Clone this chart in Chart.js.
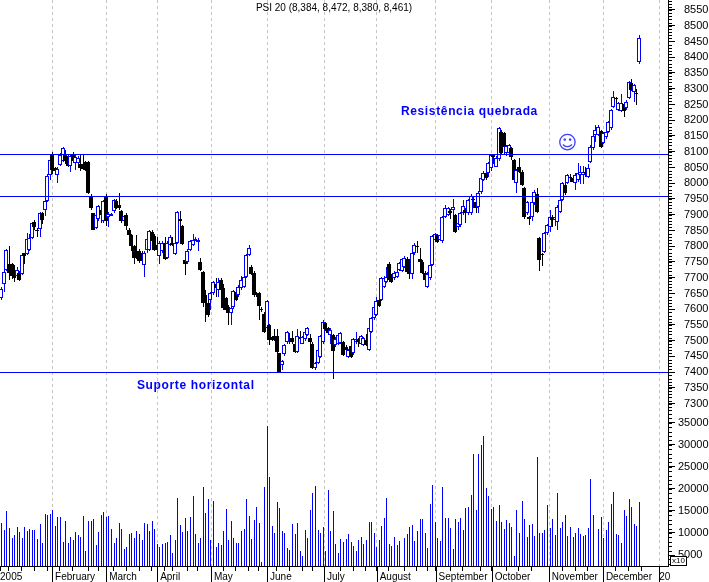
<!DOCTYPE html>
<html>
<head>
<meta charset="utf-8">
<title>PSI 20</title>
<script src="https://cdn.jsdelivr.net/npm/chart.js@4"></script>
<style>
    html, body { margin: 0; padding: 0; background: #ffffff; }
    canvas { display: block; }
</style>
</head>
<body>
<canvas id="psiChart" width="709" height="582"></canvas>
<script>
// Daily candles, ten per line
const opens = [
    7636,7681,7726,7742,7742,7726,7705,7715,7713,7777,
    7774,7787,7826,7878,7853,7856,7904,7914,7943,8027,
    8094,8048,8027,8059,8070,8091,8085,8056,8094,8064,
    8064,8062,8062,8067,8067,7959,7904,7858,7885,7914,
    7879,7959,7893,7897,7911,7943,7932,7913,7879,7900,
    7853,7837,7800,7784,7784,7779,7739,7787,7789,7845,
    7832,7805,7768,7784,7811,7763,7805,7811,7776,7811,
    7885,7863,7755,7750,7787,7805,7817,7813,7751,7719,
    7645,7619,7629,7650,7679,7661,7693,7666,7635,7608,
    7587,7608,7656,7645,7666,7672,7703,7772,7735,7716,
    7650,7650,7602,7586,7539,7549,7512,7515,7515,7460,
    7422,7457,7497,7507,7510,7491,7465,7512,7491,7507,
    7518,7510,7491,7412,7428,7449,7497,7555,7539,7518,
    7518,7486,7491,7493,7497,7481,7447,7483,7460,7497,
    7502,7491,7486,7502,7470,7528,7571,7581,7629,7629,
    7671,7687,7745,7708,7698,7703,7724,7722,7735,7761,
    7756,7713,7777,7801,7761,7750,7716,7671,7698,7740,
    7819,7835,7820,7815,7894,7899,7913,7915,7899,7862,
    7867,7904,7915,7905,7905,7949,7941,7923,7971,8010,
    8032,8032,8047,8090,8053,8076,8164,8158,8095,8095,
    8111,8074,8000,8053,8037,7984,7904,7892,7894,7936,
    7966,7825,7774,7783,7841,7862,7894,7883,7878,7910,
    7947,7994,8000,8021,8016,8000,8010,8026,8026,8037,
    8021,8068,8111,8153,8153,8166,8127,8148,8164,8174,
    8243,8270,8232,8230,8251,8238,8270,8319,8291,8285,8384
];
const highs = [
    7670,7725,7792,7800,7748,7740,7735,7720,7775,7780,
    7842,7840,7876,7882,7858,7908,7908,7964,8030,8094,
    8098,8052,8050,8096,8115,8106,8090,8090,8100,8090,
    8085,8091,8091,8070,8070,7965,7906,7905,7932,7920,
    7948,7965,7908,7905,7950,7950,7969,7916,7900,7905,
    7858,7840,7805,7837,7790,7785,7785,7828,7850,7850,
    7840,7830,7815,7815,7830,7815,7835,7830,7815,7912,
    7913,7868,7760,7790,7820,7838,7828,7826,7764,7722,
    7661,7650,7655,7690,7698,7698,7698,7679,7640,7612,
    7610,7662,7660,7677,7706,7708,7775,7805,7740,7720,
    7655,7654,7606,7590,7630,7552,7516,7536,7536,7462,
    7440,7490,7532,7525,7530,7495,7536,7530,7515,7532,
    7544,7520,7495,7434,7474,7518,7565,7560,7545,7540,
    7522,7512,7522,7527,7500,7485,7475,7487,7508,7528,
    7510,7519,7513,7520,7543,7575,7612,7640,7632,7702,
    7704,7735,7750,7712,7720,7725,7751,7762,7768,7765,
    7760,7783,7809,7815,7795,7755,7720,7717,7744,7836,
    7842,7840,7840,7896,7931,7925,7918,7949,7903,7878,
    7908,7947,7920,7951,7965,7955,7945,7974,8020,8038,
    8036,8067,8094,8094,8085,8178,8168,8162,8122,8125,
    8115,8078,8046,8079,8041,7988,7945,7896,7945,7977,
    7984,7830,7780,7845,7871,7915,7898,7898,7930,7951,
    8004,8010,8030,8030,8020,8032,8065,8055,8055,8050,
    8062,8120,8154,8185,8185,8170,8162,8168,8199,8236,
    8294,8275,8258,8283,8255,8263,8324,8330,8316,8298,8472
];
const lows = [
    7630,7655,7720,7694,7695,7685,7695,7690,7710,7742,
    7772,7785,7824,7850,7829,7830,7870,7895,7940,8011,
    8030,8025,8001,8055,8066,8060,8050,8035,8065,8043,
    8060,8040,8044,8040,7965,7915,7850,7855,7880,7875,
    7875,7863,7862,7895,7905,7918,7915,7875,7870,7853,
    7830,7784,7742,7760,7748,7745,7702,7778,7785,7800,
    7785,7770,7742,7780,7755,7760,7800,7800,7772,7808,
    7811,7805,7710,7745,7785,7800,7815,7784,7720,7608,
    7558,7575,7597,7645,7640,7640,7655,7598,7590,7550,
    7550,7600,7625,7640,7660,7668,7700,7770,7708,7640,
    7640,7565,7590,7526,7535,7486,7498,7498,7460,7397,
    7407,7450,7490,7490,7490,7460,7460,7495,7488,7500,
    7514,7486,7410,7408,7425,7445,7490,7530,7518,7491,
    7380,7480,7485,7488,7450,7465,7444,7445,7455,7490,
    7480,7487,7482,7482,7466,7524,7567,7578,7606,7625,
    7668,7683,7688,7683,7694,7700,7720,7718,7731,7715,
    7695,7695,7773,7780,7746,7712,7688,7667,7694,7736,
    7815,7810,7816,7811,7890,7895,7888,7883,7842,7851,
    7862,7900,7875,7900,7900,7920,7905,7905,7967,8006,
    8010,8020,8040,8060,8050,8072,8090,8090,8085,8090,
    8075,8006,7968,8033,7990,7888,7900,7867,7880,7930,
    7906,7720,7738,7779,7837,7846,7860,7865,7852,7905,
    7943,7964,7996,8005,8000,7979,8005,7999,7999,8020,
    8017,8064,8107,8130,8149,8112,8123,8140,8160,8170,
    8239,8240,8228,8226,8211,8234,8266,8292,8259,8248,8380
];
const closes = [
    7665,7719,7789,7715,7705,7700,7726,7692,7771,7768,
    7823,7826,7874,7860,7848,7904,7882,7943,8022,8075,
    8041,8038,8045,8091,8112,8072,8054,8085,8070,8083,
    8080,8048,8046,8043,7969,7922,7853,7900,7927,7900,
    7943,7879,7903,7903,7946,7922,7922,7879,7897,7863,
    7837,7800,7763,7763,7752,7752,7779,7823,7847,7816,
    7789,7789,7811,7811,7758,7811,7830,7805,7811,7908,
    7879,7808,7742,7784,7816,7821,7823,7821,7725,7619,
    7619,7582,7650,7685,7668,7687,7661,7603,7597,7587,
    7603,7659,7629,7672,7693,7703,7772,7793,7713,7645,
    7645,7610,7597,7528,7627,7502,7502,7502,7465,7400,
    7435,7486,7528,7504,7497,7465,7515,7507,7512,7528,
    7541,7497,7412,7430,7470,7515,7560,7536,7523,7534,
    7468,7507,7518,7523,7454,7470,7470,7449,7504,7504,
    7497,7515,7509,7486,7539,7571,7608,7627,7610,7698,
    7698,7701,7692,7687,7716,7719,7747,7758,7764,7719,
    7713,7779,7803,7798,7750,7716,7692,7713,7740,7832,
    7838,7814,7835,7892,7920,7920,7905,7926,7846,7873,
    7904,7928,7905,7947,7958,7947,7920,7970,8016,8034,
    8016,8063,8090,8082,8081,8174,8095,8116,8118,8121,
    8084,8010,8042,8037,7995,7894,7941,7885,7941,7973,
    7910,7756,7772,7841,7867,7894,7883,7894,7926,7947,
    8000,7968,8026,8016,8005,8026,8032,8037,8037,8032,
    8047,8116,8150,8169,8180,8116,8158,8164,8195,8232,
    8275,8267,8254,8254,8230,8259,8320,8296,8312,8284,8461
];
const volumes = [
    12160,10650,14960,11110,8840,9520,11330,10200,8840,11330,
    10420,10880,10650,10650,8610,12010,7700,14280,14050,14280,
    15190,11560,13600,13600,7930,12690,7700,9060,8380,10200,
    9520,9060,13830,5890,12690,12690,13150,7250,10200,14050,
    14730,13600,13830,10880,7700,8840,12240,10880,6340,6800,
    9740,9970,8840,10420,9740,8380,12240,12010,10420,12690,
    10880,7480,6800,7480,7700,7930,9520,5440,8380,17910,
    11790,10200,13370,10420,13600,18360,9740,7700,8840,20400,
    14510,17680,8380,17230,6800,7700,7250,10420,15410,8380,
    12690,8840,7700,7700,10420,10880,17680,13830,8610,12920,
    15870,12240,3400,20400,34240,22670,11560,9970,17000,15640,
    10420,9970,6570,6120,12010,9740,12240,5890,4760,10650,
    8840,15190,19040,20630,10650,9970,11330,5890,19720,10420,
    14960,7480,5440,8610,7930,8610,9740,7930,7020,5890,
    8380,9060,7480,8380,12470,12470,9970,6800,8380,11560,
    13370,17910,7480,7020,9060,7250,8160,null,8840,9740,
    11330,11790,8160,10420,13150,13150,9970,6570,16550,20860,
    12470,8840,8160,20400,13370,13370,11110,6340,13150,12470,
    13370,10650,15640,15870,18590,27890,15190,27890,29930,31970,
    20180,18360,15410,15870,12690,16320,12470,10880,12920,12240,
    11330,4760,15190,9970,17230,13150,9060,11790,12010,9290,
    27200,9970,9970,10650,16320,11110,13150,9520,19040,11110,
    12470,14050,9290,11330,9060,9970,11110,9740,9290,9520,
    11110,22220,14050,null,10880,13600,8840,10650,12470,16550,
    19270,9740,9520,7700,15190,13830,17680,15870,12010,11560,17000
];

// Horizontal levels drawn on the chart
const resistanceHigh = 8092;
const resistanceLow = 7958;
const supportLevel = 7400;

// X axis: bar indexes of month starts and weeks
const monthTicks = [-0.5, 20, 41.2, 61.2, 82.3, 104.3, 126.6, 147.3, 170.4, 192.4, 214.8, 236, 258];
const monthLabels = ['2005', ' February', ' March', ' April', ' May', ' June', ' July', ' August', ' September', ' October', ' November', ' December', '20'];
const weekTicks = [3,8,13,18,23,28,34,38,44,49,54,59,64,67,73,77,87,92,97,101,108,113,118,122,133,138,143,152,158,163,167,176,181,188,198,203,208,220,225,230,241,246,251];

// Y axis tick labels
const priceTicks = [7300,7350,7400,7450,7500,7550,7600,7650,7700,7750,7800,7850,7900,7950,8000,8050,8100,8150,8200,8250,8300,8350,8400,8450,8500,8550];
const volumeTicks = [5000,10000,15000,20000,25000,30000,35000];

const titleText = 'PSI 20 (8,384, 8,472, 8,380, 8,461)';
const upColor = '#0000ff';
const downColor = '#000000';

Chart.defaults.font.family = '"Liberation Sans", Arial, sans-serif';
Chart.defaults.color = '#000000';

// Snap the bars and level lines to whole pixels, the original has no antialiasing
const crispMarks = {
    id: 'crispMarks',
    afterDatasetsUpdate(chart) {
        chart.data.datasets.forEach(function(ds, idx) {
            chart.getDatasetMeta(idx).data.forEach(function(el) {
                if (ds.type === 'line') {
                    el.y = Math.round(el.y) + 0.5;
                } else {
                    // even widths sit on a pixel edge, odd widths on a pixel centre
                    el.x = Math.round(el.x) + (ds.barThickness % 2 ? 0.5 : 0);
                    el.y = Math.round(el.y);
                    el.base = Math.round(el.base);
                }
            });
        });
    }
};

// Short axis ticks, long month separators, title, notes and the x10 box
const chartNotes = {
    id: 'chartNotes',
    afterDraw(chart) {
        const ctx = chart.ctx;
        const xs = chart.scales.x;
        const yp = chart.scales.yPrice;
        const yv = chart.scales.yVol;
        const right = chart.chartArea.right;
        const bottom = chart.chartArea.bottom;
        ctx.save();
        ctx.strokeStyle = '#000000';
        ctx.lineWidth = 1;
        ctx.beginPath();
        for (let v = 7280; v <= 8580; v += 10) {
            const y = Math.round(yp.getPixelForValue(v)) + 0.5;
            ctx.moveTo(right, y);
            ctx.lineTo(right + 4, y);
        }
        for (let v = 3000; v <= 37000; v += 1000) {
            const y = Math.round(yv.getPixelForValue(v)) + 0.5;
            ctx.moveTo(right, y);
            ctx.lineTo(right + 4, y);
        }
        monthTicks.slice(1).forEach(function(v) {
            const x = Math.round(xs.getPixelForValue(v)) + 0.5;
            ctx.moveTo(x, bottom);
            ctx.lineTo(x, 582);
        });
        ctx.stroke();

        ctx.fillStyle = '#000000';
        ctx.textBaseline = 'middle';
        ctx.textAlign = 'center';
        ctx.font = '10px "Liberation Sans"';
        ctx.fillText(titleText, 334, 8);

        ctx.fillStyle = '#ffffff';
        ctx.fillRect(670, 556, 16, 10);
        ctx.strokeRect(670.5, 556.5, 16, 9);
        ctx.fillStyle = '#000000';
        ctx.font = '8px "Liberation Sans"';
        ctx.fillText('x10', 678.5, 561);

        ctx.fillStyle = upColor;
        ctx.textAlign = 'left';
        ctx.font = 'bold 12px "Liberation Sans"';
        ctx.letterSpacing = '0.65px';
        ctx.fillText('Resistência quebrada', xs.getPixelForValue(156.7), yp.getPixelForValue(8226));
        ctx.fillText('Suporte horizontal', xs.getPixelForValue(53.2), yp.getPixelForValue(7356));
        ctx.letterSpacing = '0px';
        ctx.textAlign = 'center';
        ctx.fillStyle = '#3a3aff';
        ctx.font = '19px "DejaVu Sans"';
        ctx.fillText('\u263A', xs.getPixelForValue(222), yp.getPixelForValue(8124));
        ctx.restore();
    }
};

const wickData = highs.map(function(h, i) { return { x: i, y: [lows[i], h] }; });
const bodyData = opens.map(function(o, i) { return { x: i, y: [o, closes[i]] }; });
const volumeData = volumes.map(function(v, i) { return { x: i, y: v }; });
const candleColors = opens.map(function(o, i) { return closes[i] >= o ? upColor : downColor; });
const bodyFills = opens.map(function(o, i) { return closes[i] >= o ? '#ffffff' : downColor; });

function levelLine(value) {
    return {
        type: 'line',
        data: [{ x: -1, y: value }, { x: 262, y: value }],
        yAxisID: 'yPrice',
        borderColor: upColor,
        borderWidth: 1,
        pointRadius: 0,
        order: 0
    };
}

// no auto padding from the first and last labels, the plot runs to the canvas edge
function fixBox(width, height) {
    return function(scale) {
        if (width) scale.width = width;
        if (height) scale.height = height;
        scale.paddingLeft = 0;
        scale.paddingRight = 0;
        scale.paddingTop = 0;
        scale.paddingBottom = 0;
    };
}

new Chart(document.getElementById('psiChart'), {
    type: 'bar',
    data: {
        datasets: [
            levelLine(resistanceHigh),
            levelLine(resistanceLow),
            levelLine(supportLevel),
            {
                data: bodyData,
                yAxisID: 'yPrice',
                grouped: false,
                barThickness: 4,
                backgroundColor: bodyFills,
                borderColor: candleColors,
                borderWidth: 1,
                borderSkipped: false,
                inflateAmount: 0,
                order: 1
            },
            {
                data: wickData,
                yAxisID: 'yPrice',
                grouped: false,
                barThickness: 1,
                backgroundColor: candleColors,
                borderWidth: 0,
                inflateAmount: 0,
                order: 2
            },
            {
                data: volumeData,
                yAxisID: 'yVol',
                grouped: false,
                barThickness: 1,
                backgroundColor: upColor,
                borderWidth: 0,
                inflateAmount: 0,
                order: 3
            }
        ]
    },
    options: {
        responsive: false,
        animation: false,
        layout: { padding: 0, autoPadding: false },
        plugins: {
            legend: { display: false },
            tooltip: { enabled: false }
        },
        scales: {
            x: {
                type: 'linear',
                position: 'bottom',
                offset: false,
                min: -0.51,
                max: 261.45,
                afterFit: fixBox(0, 16),
                afterBuildTicks: function(scale) {
                    scale.ticks = monthTicks.concat(weekTicks).sort(function(a, b) { return a - b; }).map(function(v) { return { value: v }; });
                },
                border: { display: true, color: '#000000', dash: [3, 3] },
                grid: {
                    offset: false,
                    color: function(ctx) {
                        return ctx.tick && ctx.tick.value > 0 && monthTicks.includes(ctx.tick.value) ? '#c4c4c4' : 'rgba(0,0,0,0)';
                    },
                    tickColor: '#000000',
                    tickLength: 5,
                    tickBorderDash: []
                },
                ticks: {
                    autoSkip: false,
                    maxRotation: 0,
                    minRotation: 0,
                    align: 'start',
                    padding: 0,
                    font: { size: 10 },
                    callback: function(value) {
                        const pos = monthTicks.indexOf(value);
                        return pos >= 0 ? monthLabels[pos] : '';
                    }
                }
            },
            yPrice: {
                type: 'linear',
                position: 'right',
                stack: 'right',
                stackWeight: 412,
                min: 7273.7,
                max: 8581.7,
                afterFit: fixBox(41, 0),
                afterBuildTicks: function(scale) {
                    scale.ticks = priceTicks.map(function(v) { return { value: v }; });
                },
                border: { color: '#000000' },
                grid: { drawOnChartArea: false, tickColor: '#000000', tickLength: 7 },
                ticks: {
                    padding: 9,
                    crossAlign: 'near',
                    autoSkip: false,
                    font: { size: 11 },
                    callback: function(value) { return String(value); }
                }
            },
            yVol: {
                type: 'linear',
                position: 'right',
                stack: 'right',
                stackWeight: 154,
                min: 2506,
                max: 37426,
                afterFit: fixBox(41, 0),
                afterBuildTicks: function(scale) {
                    scale.ticks = volumeTicks.map(function(v) { return { value: v }; });
                },
                border: { color: '#000000' },
                grid: { drawOnChartArea: false, tickColor: '#000000', tickLength: 7 },
                ticks: {
                    padding: 3,
                    crossAlign: 'near',
                    autoSkip: false,
                    font: { size: 11 },
                    callback: function(value) { return String(value); }
                }
            }
        }
    },
    plugins: [crispMarks, chartNotes]
});
</script>
</body>
</html>
